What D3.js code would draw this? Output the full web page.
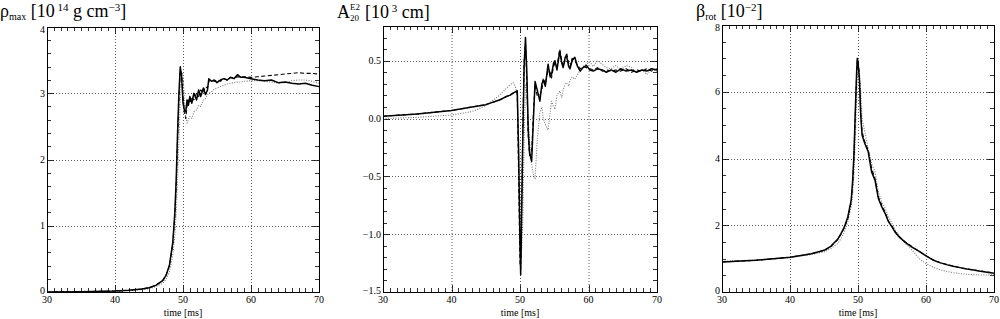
<!DOCTYPE html>
<html><head><meta charset="utf-8">
<script src="https://cdn.jsdelivr.net/npm/d3@7"></script>
<style>
body{margin:0;background:#fff;}
svg{display:block;}
</style></head>
<body><svg id="c" width="1000" height="319" font-family="'Liberation Serif', 'DejaVu Serif', serif"></svg>
<script>
// ---------- data ----------
const xTicks = [30, 40, 50, 60, 70];

// Panel 1: rho_max [1e14 g/cm^3]
const rhoTime = [30,35,40,42,44,45,46,47,47.5,48,48.5,48.8,49,49.2,49.4,49.6,49.8,50,50.2,50.4,50.6,50.8,51,51.3,51.6,52,52.3,52.6,53,53.3,53.6,53.8,54.2,54.6,55,55.5,56,56.5,57,57.5,58,58.5,59,60,61,62,63,64,65,66,67,68,69,70];
const rhoSolid = [0,0.005,0.015,0.025,0.045,0.065,0.1,0.17,0.25,0.4,0.75,1.2,1.7,2.4,3.0,3.4,3.25,2.85,2.75,2.72,2.9,2.82,2.95,2.85,3.0,2.9,3.05,2.95,3.08,2.98,3.05,3.22,3.18,3.2,3.16,3.2,3.22,3.2,3.24,3.22,3.28,3.24,3.24,3.22,3.2,3.19,3.2,3.16,3.17,3.15,3.14,3.15,3.12,3.1];
const rhoDashed = [0,0.005,0.015,0.025,0.045,0.065,0.1,0.17,0.25,0.4,0.72,1.15,1.6,2.3,2.9,3.35,3.3,2.95,2.7,2.62,2.8,2.9,2.85,2.95,2.9,3.0,2.95,3.05,3.0,3.1,3.08,3.18,3.2,3.18,3.2,3.18,3.22,3.2,3.24,3.23,3.25,3.24,3.25,3.24,3.25,3.26,3.27,3.28,3.29,3.3,3.31,3.3,3.3,3.29];
const rhoDotted = [0,0.004,0.012,0.02,0.035,0.05,0.08,0.13,0.19,0.3,0.55,0.85,1.2,1.7,2.3,2.9,3.3,3.3,2.9,2.65,2.55,2.6,2.65,2.62,2.72,2.75,2.82,2.8,2.9,2.92,2.98,3.0,3.02,3.06,3.08,3.1,3.12,3.14,3.15,3.16,3.17,3.17,3.18,3.19,3.19,3.18,3.17,3.15,3.16,3.19,3.2,3.2,3.18,3.15];
const rhoYTicks = [0, 1, 2, 3, 4];

// Panel 2: A20 E2 [1e3 cm]
const aTime = [30,35,40,43,45,47,48,48.5,49,49.3,49.6,49.8,50,50.1,50.2,50.4,50.6,50.8,51,51.2,51.4,51.7,52,52.2,52.5,52.9,53.2,53.4,53.7,54.1,54.4,54.6,54.9,55.1,55.4,55.8,56.1,56.3,56.6,56.8,57.1,57.3,57.6,58,58.4,58.8,59.2,59.7,60.2,60.7,61.3,62,62.6,63.3,64,64.7,65.5,66.3,67,67.8,68.5,69.2,70];
const aSolid = [0.02,0.04,0.07,0.1,0.12,0.16,0.19,0.2,0.22,0.23,0.24,-0.3,-1.1,-1.35,-1.0,-0.2,0.45,0.7,0.4,-0.1,-0.3,-0.37,0.05,0.32,0.25,0.15,0.3,0.33,0.28,0.47,0.36,0.38,0.48,0.5,0.42,0.58,0.48,0.44,0.53,0.54,0.45,0.43,0.5,0.53,0.45,0.41,0.44,0.46,0.42,0.41,0.43,0.42,0.4,0.42,0.4,0.43,0.41,0.42,0.4,0.42,0.41,0.43,0.42];
const aDashed = [0.02,0.04,0.07,0.1,0.12,0.16,0.19,0.2,0.22,0.23,0.22,-0.5,-1.25,-1.3,-0.9,-0.1,0.5,0.65,0.3,-0.15,-0.32,-0.3,0.1,0.28,0.2,0.2,0.25,0.35,0.3,0.42,0.4,0.35,0.45,0.48,0.45,0.6,0.5,0.45,0.5,0.57,0.48,0.45,0.52,0.5,0.46,0.43,0.45,0.44,0.43,0.42,0.44,0.41,0.42,0.41,0.42,0.41,0.43,0.4,0.42,0.41,0.43,0.41,0.43];
const aDotted = [0,0.01,0.03,0.06,0.11,0.2,0.26,0.29,0.31,0.28,0.2,-0.2,-0.8,-1.1,-1.2,-0.9,-0.2,0.3,0.25,0,-0.2,-0.4,-0.5,-0.52,-0.2,0.05,0.1,0,-0.05,-0.1,0.05,0.15,0.1,0.08,0.2,0.24,0.18,0.25,0.3,0.31,0.28,0.33,0.36,0.34,0.38,0.42,0.45,0.47,0.49,0.45,0.5,0.47,0.44,0.43,0.46,0.42,0.46,0.44,0.4,0.42,0.38,0.43,0.4];
const aYTicks = [-1.5, -1.0, -0.5, 0.0, 0.5];

// Panel 3: beta_rot [1e-2]
const bTime = [30,35,40,43,45,46,47,47.5,48,48.5,49,49.2,49.4,49.6,49.8,49.9,50,50.2,50.4,50.6,51,51.5,52,52.5,53,53.5,54,54.5,55,55.5,56,57,58,59,60,61,62,63,64,65,66,67,68,69,70];
const bSolid = [0.9,0.95,1.04,1.14,1.25,1.37,1.58,1.75,1.95,2.25,2.75,3.3,4.1,5.4,6.6,7.0,6.9,6.4,5.3,4.7,4.45,4.2,3.6,3.35,2.8,2.55,2.35,2.1,1.95,1.78,1.66,1.48,1.34,1.22,1.08,0.96,0.88,0.82,0.77,0.73,0.69,0.66,0.62,0.59,0.56];
const bDashed = [0.9,0.95,1.04,1.14,1.24,1.36,1.56,1.73,1.93,2.2,2.7,3.2,4.0,5.3,6.5,6.95,6.95,6.5,5.4,4.8,4.5,4.25,3.7,3.4,2.85,2.6,2.38,2.12,1.97,1.8,1.67,1.49,1.35,1.22,1.09,0.97,0.89,0.83,0.78,0.73,0.69,0.66,0.63,0.6,0.57];
const bDotted = [0.92,0.96,1.03,1.12,1.2,1.3,1.45,1.6,1.8,2.1,2.55,2.9,3.5,4.5,5.8,6.5,6.9,6.6,6.0,5.2,4.8,4.3,3.85,3.6,3.0,2.7,2.5,2.25,2.05,1.85,1.7,1.45,1.25,1.0,0.85,0.75,0.67,0.62,0.58,0.55,0.53,0.52,0.51,0.51,0.52];
const bYTicks = [0, 2, 4, 6, 8];

// ---------- drawing ----------
const svg = d3.select("#c");
const panels = [
  {x0:47, x1:319, y0:27, y1:292, ymin:0, ymax:4, yminor:0.2, yt:rhoYTicks, fmt:d=>String(d),
   t:rhoTime, s:[rhoDotted, rhoDashed, rhoSolid]},
  {x0:383, x1:657, y0:26, y1:292, ymin:-1.5, ymax:0.8, yminor:0.1, yt:aYTicks, fmt:d=>d3.format(".1f")(d).replace("-","\u2212"),
   t:aTime, s:[aDotted, aDashed, aSolid]},
  {x0:722, x1:994, y0:25, y1:292, ymin:0, ymax:8, yminor:0.5, yt:bYTicks, fmt:d=>String(d),
   t:bTime, s:[bDotted, bDashed, bSolid]}
];
const styles = [
  {stroke:"#777", w:1.1, dash:"1,1.5"},
  {stroke:"#000", w:1.1, dash:"4,2.5"},
  {stroke:"#000", w:1.5, dash:null}
];

panels.forEach(p=>{
  const x = d3.scaleLinear().domain([30,70]).range([p.x0,p.x1]);
  const y = d3.scaleLinear().domain([p.ymin,p.ymax]).range([p.y1,p.y0]);
  const g = svg.append("g");

  // grid
  g.selectAll(".gx").data(xTicks.filter(v=>v>30&&v<70)).enter().append("line")
    .attr("x1",d=>x(d)+0.5).attr("x2",d=>x(d)+0.5).attr("y1",p.y0).attr("y2",p.y1)
    .attr("stroke","#333").attr("stroke-width",0.8).attr("stroke-dasharray","1,2");
  g.selectAll(".gy").data(p.yt.filter(v=>v>p.ymin&&v<p.ymax)).enter().append("line")
    .attr("y1",d=>Math.round(y(d))+0.5).attr("y2",d=>Math.round(y(d))+0.5).attr("x1",p.x0).attr("x2",p.x1)
    .attr("stroke","#333").attr("stroke-width",0.8).attr("stroke-dasharray","1,2");

  // minor ticks
  const xm = d3.range(30,70.001,1);
  g.selectAll(".mxb").data(xm).enter().append("line")
    .attr("x1",d=>Math.round(x(d))+0.5).attr("x2",d=>Math.round(x(d))+0.5)
    .attr("y1",p.y1).attr("y2",d=>p.y1-(d%10===0?7:4)).attr("stroke","#000").attr("stroke-width",0.8);
  g.selectAll(".mxt").data(xm).enter().append("line")
    .attr("x1",d=>Math.round(x(d))+0.5).attr("x2",d=>Math.round(x(d))+0.5)
    .attr("y1",p.y0).attr("y2",d=>p.y0+(d%10===0?7:4)).attr("stroke","#000").attr("stroke-width",0.8);
  const ym = d3.range(p.ymin, p.ymax+1e-6, p.yminor);
  const isMaj = v => p.yt.some(t=>Math.abs(t-v)<1e-6);
  g.selectAll(".myl").data(ym).enter().append("line")
    .attr("y1",d=>Math.round(y(d))+0.5).attr("y2",d=>Math.round(y(d))+0.5)
    .attr("x1",p.x0).attr("x2",d=>p.x0+(isMaj(d)?7:4)).attr("stroke","#000").attr("stroke-width",0.8);
  g.selectAll(".myr").data(ym).enter().append("line")
    .attr("y1",d=>Math.round(y(d))+0.5).attr("y2",d=>Math.round(y(d))+0.5)
    .attr("x1",p.x1).attr("x2",d=>p.x1-(isMaj(d)?7:4)).attr("stroke","#000").attr("stroke-width",0.8);

  // series
  const line = d3.line().x((d,i)=>x(p.t[i])).y(d=>y(d));
  p.s.forEach((vals,k)=>{
    const st = styles[k];
    g.append("path").datum(vals).attr("d",line).attr("fill","none")
      .attr("stroke",st.stroke).attr("stroke-width",st.w)
      .attr("stroke-dasharray",st.dash).attr("stroke-linejoin","round");
  });

  // frame
  g.append("rect").attr("x",p.x0+0.5).attr("y",p.y0+0.5).attr("width",p.x1-p.x0).attr("height",p.y1-p.y0)
    .attr("fill","none").attr("stroke","#000").attr("stroke-width",1);

  // tick labels
  g.selectAll(".xl").data(xTicks).enter().append("text")
    .attr("x",d=>x(d)).attr("y",303).attr("text-anchor","middle").attr("font-size",10).text(d=>d);
  g.append("text").attr("x",(p.x0+p.x1)/2).attr("y",315.5).attr("text-anchor","middle")
    .attr("font-size",10).text("time [ms]");
  g.selectAll(".yl").data(p.yt).enter().append("text")
    .attr("x",p.x0-2).attr("y",d=>{let v=y(d)+3.5; if(d===p.ymax) v+=2; if(d===p.ymin) v-=2; return v;})
    .attr("text-anchor","end").attr("font-size",10).text(p.fmt);
});

// titles
const T1 = svg.append("text").attr("x",0).attr("y",17).attr("font-size",18);
T1.append("tspan").text("\u03C1");
T1.append("tspan").attr("font-size",10).attr("dy",3).text("max");
T1.append("tspan").attr("dy",-3).text(" [10");
T1.append("tspan").attr("font-size",11).attr("dy",-6).text(" 14");
T1.append("tspan").attr("dy",6).text(" g cm");
T1.append("tspan").attr("font-size",11).attr("dy",-6).text("\u22123");
T1.append("tspan").attr("dy",6).text("]");

const T2 = svg.append("g");
T2.append("text").attr("x",337).attr("y",18).attr("font-size",18).text("A");
T2.append("text").attr("x",350).attr("y",10).attr("font-size",9).text("E2");
T2.append("text").attr("x",350).attr("y",21).attr("font-size",9).text("20");
const T2b = T2.append("text").attr("x",365).attr("y",18).attr("font-size",18);
T2b.append("tspan").text("[10");
T2b.append("tspan").attr("font-size",11).attr("dy",-6).text(" 3");
T2b.append("tspan").attr("dy",6).text(" cm]");

const T3 = svg.append("text").attr("x",696).attr("y",17).attr("font-size",18);
T3.append("tspan").text("\u03B2");
T3.append("tspan").attr("font-size",10).attr("dy",3).text("rot");
T3.append("tspan").attr("dy",-3).text(" [10");
T3.append("tspan").attr("font-size",11).attr("dy",-6).text("\u22122");
T3.append("tspan").attr("dy",6).text("]");
</script>
</body></html>
